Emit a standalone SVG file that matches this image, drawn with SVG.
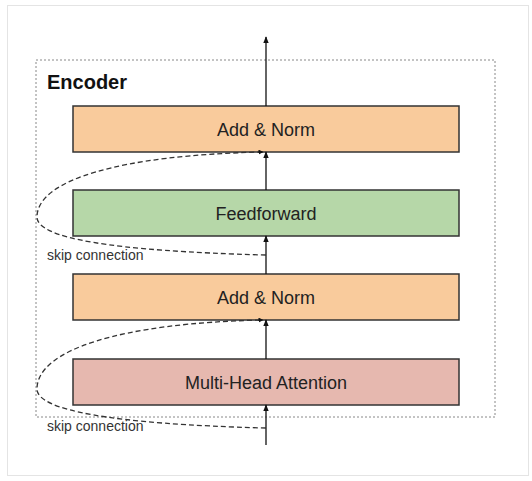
<svg xmlns="http://www.w3.org/2000/svg" width="532" height="481" viewBox="0 0 532 481">
<defs>
<marker id="ah" viewBox="0 0 10 10" refX="9" refY="5" markerWidth="5" markerHeight="5" orient="auto" markerUnits="userSpaceOnUse">
<path d="M0,0 L10,5 L0,10 z" fill="#111"/>
</marker>
<marker id="ah2" viewBox="0 0 10 10" refX="9" refY="5" markerWidth="7" markerHeight="7" orient="auto" markerUnits="userSpaceOnUse">
<path d="M0,1 L10,5 L0,9 z" fill="#111"/>
</marker>
</defs>
<style>
.box{stroke:#333;stroke-width:1.5}
.lbl{font-family:"Liberation Sans",Arial,sans-serif;font-size:18px;fill:#222;text-anchor:middle}
.skip{font-family:"Liberation Sans",Arial,sans-serif;font-size:14px;fill:#333}
.arr{stroke:#111;stroke-width:1.3;fill:none;marker-end:url(#ah2)}
.dash{stroke:#333;stroke-width:1.3;fill:none;stroke-dasharray:5 3;marker-end:url(#ah)}
</style>
<rect x="7.5" y="5.5" width="521" height="470" fill="#fff" stroke="#e4e4e4" stroke-width="1"/>
<g id="encoder">
<rect x="36" y="60" width="459" height="357" fill="none" stroke="#888" stroke-width="1" stroke-dasharray="2 2"/>
<text x="47" y="89" font-family="'Liberation Sans',Arial,sans-serif" font-size="20" font-weight="bold" fill="#111">Encoder</text>
</g>
<g id="addnorm2">
<rect class="box" x="73" y="106" width="386" height="46" fill="#f9cb9c"/>
<text class="lbl" x="266" y="136">Add &amp; Norm</text>
</g>
<g id="feedforward">
<rect class="box" x="73" y="190" width="386" height="46" fill="#b6d7a8"/>
<text class="lbl" x="266" y="220">Feedforward</text>
</g>
<g id="addnorm1">
<rect class="box" x="73" y="274" width="386" height="46" fill="#f9cb9c"/>
<text class="lbl" x="266" y="304">Add &amp; Norm</text>
</g>
<g id="mha">
<rect class="box" x="73" y="359" width="386" height="46" fill="#e6b8af"/>
<text class="lbl" x="266" y="389">Multi-Head Attention</text>
</g>
<g id="connectors">
<line class="arr" x1="266" y1="106" x2="266" y2="37"/>
<line class="arr" x1="266" y1="190" x2="266" y2="152"/>
<line class="arr" x1="266" y1="274" x2="266" y2="236"/>
<line class="arr" x1="266" y1="359" x2="266" y2="320"/>
<line class="arr" x1="266" y1="445" x2="266" y2="405"/>
<path class="dash" d="M266,255 C110,251 37,238 37,217 C37,180 120,155 263,152"/>
<path class="dash" d="M266,428 C110,424 37,410 37,389 C37,350 120,323 263,320"/>
</g>
<g id="labels">
<text class="skip" x="47" y="260">skip connection</text>
<text class="skip" x="47" y="431">skip connection</text>
</g>
</svg>
